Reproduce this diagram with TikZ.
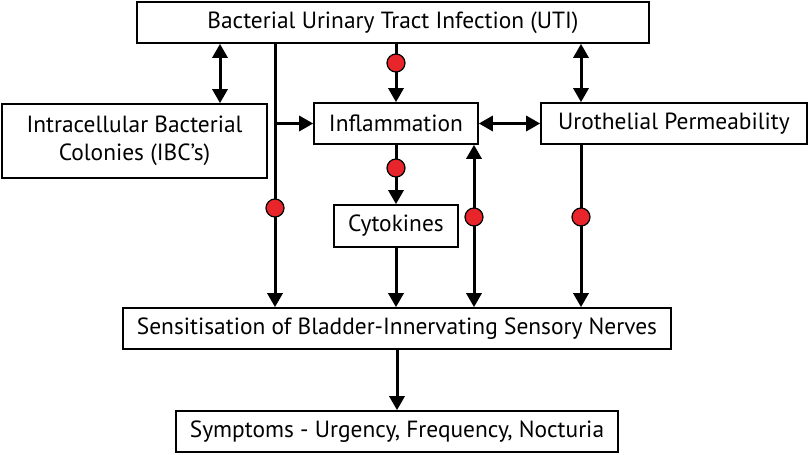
\documentclass[tikz,border=0pt]{standalone}
\usepackage{fontspec}
\setmainfont{PT Sans}
\usetikzlibrary{arrows.meta}
\definecolor{dotred}{RGB}{232,37,42}
\tikzset{
  box/.style={draw, line width=1.6pt, inner sep=0pt, align=center, font=\fontsize{23.4}{28}\selectfont},
  arr/.style={line width=3pt, -{Triangle[length=14pt,width=15pt]}},
  dbl/.style={line width=3pt, {Triangle[length=14pt,width=15pt]}-{Triangle[length=14pt,width=15pt]}},
  dot/.style={circle, draw, fill=dotred, line width=1.2pt, minimum size=18pt, inner sep=0pt}
}
\begin{document}
\begin{tikzpicture}[x=1pt, y=-1pt]
            \useasboundingbox (0,0) rectangle (809,455);
            \draw (393,22.5) node[box, minimum width=512pt, minimum height=41pt] (uti) {Bacterial Urinary Tract Infection (UTI)};
            \draw (134.5,141) node[box, minimum width=265pt, minimum height=74pt] (ibc) {Intracellular Bacterial\\Colonies (IBC's)};
            \draw (396,123.5) node[box, minimum width=164pt, minimum height=41pt] (inf) {Inflammation};
            \draw (674,123.5) node[box, minimum width=266pt, minimum height=41pt] (uro) {Urothelial Permeability};
            \draw (396,226) node[box, minimum width=124pt, minimum height=42pt] (cyt) {Cytokines};
            \draw (397,328.5) node[box, minimum width=548pt, minimum height=41pt] (sens) {Sensitisation of Bladder-Innervating Sensory Nerves};
            \draw (397,431.5) node[box, minimum width=442pt, minimum height=41pt] (sym) {Symptoms - Urgency, Frequency, Nocturia};

            \coordinate (k) at (220,73);
            \coordinate (d1) at (275,208);
            \coordinate (d2) at (396,63);
            \coordinate (d3) at (396,168);
            \coordinate (d4) at (474,217);
            \coordinate (d5) at (581,217);

            \draw[dbl] (uti.south -| k) -- (ibc.north -| k);
            \draw[arr] (uti.south -| d1) -- (sens.north -| d1);
            \draw[arr] (inf.west -| d1) -- (inf.west);
            \draw[arr] (uti.south -| d2) -- (inf.north -| d2);
            \draw[dbl] (uti.south -| d5) -- (uro.north -| d5);
            \draw[dbl] (inf.east) -- (uro.west);
            \draw[arr] (inf.south) -- (cyt.north);
            \draw[arr] (cyt.south) -- (sens.north -| cyt.south);
            \draw[dbl] (sens.north -| d4) -- (inf.south -| d4);
            \draw[arr] (uro.south -| d5) -- (sens.north -| d5);
            \draw[arr] (sens.south -| sym.north) -- (sym.north);

            \node[dot] (dot1) at (d1) {};
            \node[dot] (dot2) at (d2) {};
            \node[dot] (dot3) at (d3) {};
            \node[dot] (dot4) at (d4) {};
            \node[dot] (dot5) at (d5) {};
        \end{tikzpicture}
\end{document}
